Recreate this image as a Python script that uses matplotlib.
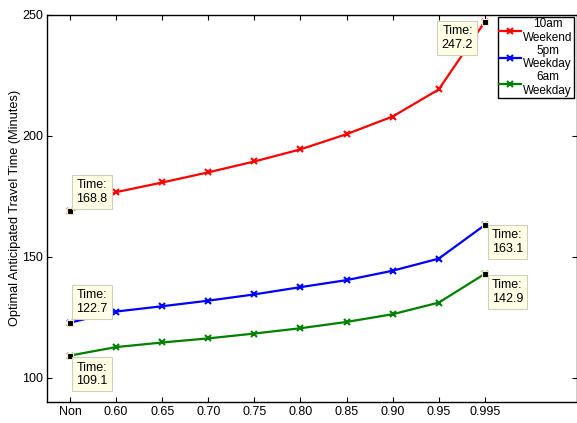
import matplotlib
matplotlib.use("Agg")
import matplotlib.pyplot as plt

plt.rcParams['font.family'] = ['Liberation Sans', 'DejaVu Sans']

# confidence levels on the x axis
x_labels = ["Non", "0.60", "0.65", "0.70", "0.75", "0.80", "0.85", "0.90", "0.95", "0.995"]
x_pos = [1, 2, 3, 4, 5, 6, 7, 8, 9, 10]

# optimal anticipated travel time in minutes
weekend_10am = [168.8, 176.7, 180.7, 184.9, 189.4, 194.4, 200.7, 208.0, 219.2, 247.2]
weekday_5pm = [122.7, 127.3, 129.5, 131.8, 134.4, 137.4, 140.3, 144.2, 149.2, 163.1]
weekday_6am = [109.1, 112.6, 114.5, 116.2, 118.2, 120.4, 123.0, 126.2, 131.0, 142.9]

fig = plt.figure(figsize=(5.77, 4.23), dpi=100)
ax = fig.add_axes([47 / 577, 21.3 / 423, 530 / 577, 386.7 / 423])

ax.plot(x_pos, weekend_10am, color="red", marker="x", lw=1.6, ms=5, mew=1.5, label="10am\nWeekend")
ax.plot(x_pos, weekday_5pm, color="blue", marker="x", lw=1.6, ms=5, mew=1.5, label="5pm\nWeekday")
ax.plot(x_pos, weekday_6am, color="green", marker="x", lw=1.6, ms=5, mew=1.5, label="6am\nWeekday")

# data tip squares at first and last points
for series in (weekend_10am, weekday_5pm, weekday_6am):
    ax.plot([x_pos[0], x_pos[-1]], [series[0], series[-1]], ls="none", marker="s",
            ms=4, mfc="black", mec="#EDE8C8", mew=0.8, zorder=4)


def datatip(x, y, dx, dy, ha, va):
    ax.annotate("Time:\n%.1f" % y, (x, y), xytext=(dx, dy), textcoords="offset pixels",
                ha=ha, va=va, fontsize=9, linespacing=1.2, zorder=6,
                bbox=dict(boxstyle="square,pad=0.33", fc="#FFFFE5", ec="#CFCFBF", lw=0.8))


datatip(x_pos[0], weekend_10am[0], 6.5, 6, "left", "bottom")
datatip(x_pos[-1], weekend_10am[-1], -12, -3, "right", "top")
datatip(x_pos[0], weekday_5pm[0], 6.5, 8, "left", "bottom")
datatip(x_pos[-1], weekday_5pm[-1], 7, -4, "left", "top")
datatip(x_pos[0], weekday_6am[0], 6.5, -6, "left", "top")
datatip(x_pos[-1], weekday_6am[-1], 7, -5, "left", "top")

ax.set_xlim(0.5, 12)
ax.set_ylim(90, 250)
ax.set_xticks(x_pos, x_labels)
ax.set_yticks([100, 150, 200, 250])
ax.tick_params(direction="in", length=3.6, width=0.8, top=True, right=True, labelsize=9, pad=3)
for sp in ax.spines.values():
    sp.set_linewidth(1.0)

ax.set_ylabel("Optimal Anticipated Travel Time (Minutes)", fontsize=9.2)
ax.yaxis.set_label_coords(-0.049, 0.5)

leg = ax.legend(loc="upper right", bbox_to_anchor=(574 / 577, (423 - 17) / 423),
                bbox_transform=fig.transFigure, borderaxespad=0, fontsize=8.5,
                fancybox=False, framealpha=1, edgecolor="black", borderpad=0.1,
                labelspacing=0.05, handlelength=1.85, handletextpad=0.2)
leg.get_frame().set_linewidth(1.0)
leg.set_zorder(10)
for t in leg.get_texts():
    t.set_multialignment("center")

fig.savefig("out.png", dpi=100)
